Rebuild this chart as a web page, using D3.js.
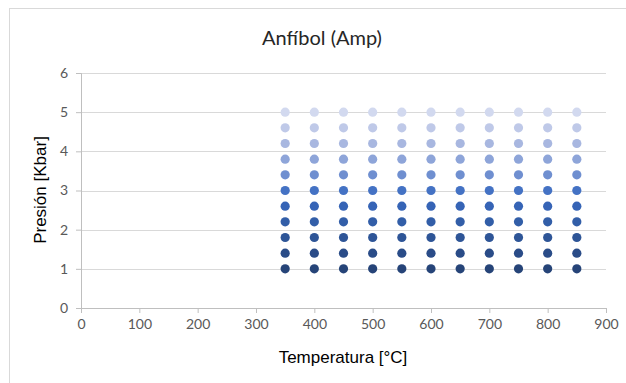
<!DOCTYPE html>
<html>
<head>
<meta charset="utf-8">
<script src="https://cdn.jsdelivr.net/npm/d3@7"></script>
<style>
  body { margin: 0; background: #fff; }
  svg { display: block; }
  .tick text { font-family: Lato, "Open Sans", sans-serif; font-size: 14px; fill: #595959; }
</style>
</head>
<body>
<svg width="626" height="383"></svg>
<script>
// temperaturas (°C) y presiones (Kbar) de la malla
var temps = [350, 400, 450, 500, 550, 600, 650, 700, 750, 800, 850];
var pressures = [1, 1.4, 1.8, 2.2, 2.6, 3, 3.4, 3.8, 4.2, 4.6, 5];
var rowColors = ["#264478", "#2a4c88", "#2e5597", "#325ea8", "#3664b6", "#4472c4",
                 "#6f8fd0", "#8ea5d9", "#a8b7e0", "#bfc9e8", "#d2d9ef"];
var xTicks = [0, 100, 200, 300, 400, 500, 600, 700, 800, 900];
var yTicks = [0, 1, 2, 3, 4, 5, 6];

var svg = d3.select("svg"),
    margin = { top: 73, right: 20, bottom: 75, left: 81 },
    width = 606 - margin.left,
    height = 308 - margin.top;

// marco del gráfico
svg.append("rect").attr("x", 9.5).attr("y", 8.5).attr("width", 640).attr("height", 400)
  .attr("fill", "none").attr("stroke", "#d9d9d9");

var x = d3.scaleLinear().domain([0, 900]).range([0, width]);
var y = d3.scaleLinear().domain([0, 6]).range([height, 0]);

var g = svg.append("g").attr("transform", "translate(" + margin.left + "," + margin.top + ")");

// grid
g.append("g").selectAll("line").data(yTicks.slice(1)).enter().append("line")
  .attr("x1", 0).attr("x2", width)
  .attr("y1", function (d) { return Math.round(y(d)) + 0.5; })
  .attr("y2", function (d) { return Math.round(y(d)) + 0.5; })
  .attr("stroke", "#d9d9d9");

var xAxis = g.append("g").attr("transform", "translate(0," + height + ")")
  .call(d3.axisBottom(x).tickValues(xTicks).tickSize(5).tickPadding(6).tickFormat(d3.format("d")));
var yAxis = g.append("g")
  .call(d3.axisLeft(y).tickValues(yTicks).tickSize(5).tickPadding(8).tickFormat(d3.format("d")));
[xAxis, yAxis].forEach(function (a) {
  a.select(".domain").attr("stroke", "#bfbfbf");
  a.selectAll(".tick line").attr("stroke", "#bfbfbf");
});

// puntos, una fila por presión
var points = [];
pressures.forEach(function (p, i) {
  temps.forEach(function (t) { points.push({ t: t, p: p, c: rowColors[i] }); });
});
g.append("g").selectAll("circle").data(points).enter().append("circle")
  .attr("cx", function (d) { return x(d.t); })
  .attr("cy", function (d) { return y(d.p); })
  .attr("r", 4.6)
  .attr("fill", function (d) { return d.c; });

svg.append("text").attr("x", 322).attr("y", 45).attr("text-anchor", "middle")
  .attr("font-family", "Lato, sans-serif").attr("font-size", 20).attr("fill", "#262626")
  .text("Anfíbol (Amp)");

svg.append("text").attr("x", 343).attr("y", 363).attr("text-anchor", "middle")
  .attr("font-family", "Liberation Sans, Arial, sans-serif").attr("font-size", 17).attr("fill", "#000")
  .text("Temperatura [°C]");

svg.append("text").attr("transform", "translate(46,190) rotate(-90)").attr("text-anchor", "middle")
  .attr("font-family", "Liberation Sans, Arial, sans-serif").attr("font-size", 17).attr("fill", "#000")
  .text("Presión [Kbar]");
</script>
</body>
</html>
